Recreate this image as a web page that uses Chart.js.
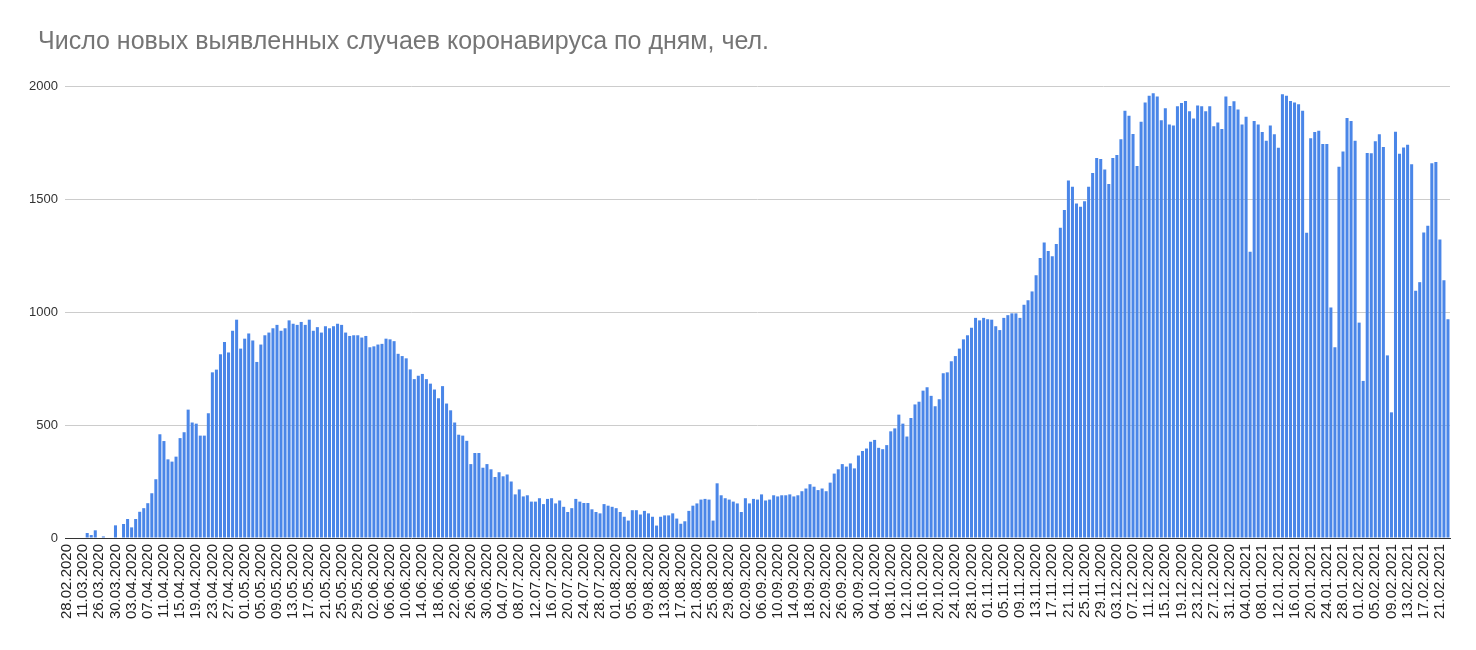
<!DOCTYPE html>
<html><head><meta charset="utf-8">
<script src="https://cdn.jsdelivr.net/npm/chart.js@4.4.1/dist/chart.umd.min.js"></script>
<style>html,body{margin:0;padding:0;background:#fff}</style>
</head><body>
<canvas id="c" width="1476" height="650"></canvas>
<script>
const titleText = 'Число новых выявленных случаев коронавируса по дням, чел.';

const categories = [
'28.02.2020','03.03.2020','05.03.2020','07.03.2020','11.03.2020','14.03.2020','18.03.2020','22.03.2020',
'26.03.2020','27.03.2020','28.03.2020','29.03.2020','30.03.2020','31.03.2020',
'01.04.2020','02.04.2020','03.04.2020','04.04.2020','05.04.2020','06.04.2020','07.04.2020','08.04.2020','09.04.2020','10.04.2020',
'11.04.2020','12.04.2020','13.04.2020','14.04.2020','15.04.2020','16.04.2020','17.04.2020','18.04.2020','19.04.2020','20.04.2020',
'21.04.2020','22.04.2020','23.04.2020','24.04.2020','25.04.2020','26.04.2020','27.04.2020','28.04.2020','29.04.2020','30.04.2020',
'01.05.2020','02.05.2020','03.05.2020','04.05.2020','05.05.2020','06.05.2020','07.05.2020','08.05.2020','09.05.2020','10.05.2020',
'11.05.2020','12.05.2020','13.05.2020','14.05.2020','15.05.2020','16.05.2020','17.05.2020','18.05.2020','19.05.2020','20.05.2020',
'21.05.2020','22.05.2020','23.05.2020','24.05.2020','25.05.2020','26.05.2020','27.05.2020','28.05.2020','29.05.2020','30.05.2020','31.05.2020',
'01.06.2020','02.06.2020','03.06.2020','04.06.2020','05.06.2020','06.06.2020','07.06.2020','08.06.2020','09.06.2020','10.06.2020',
'11.06.2020','12.06.2020','13.06.2020','14.06.2020','15.06.2020','16.06.2020','17.06.2020','18.06.2020','19.06.2020','20.06.2020',
'21.06.2020','22.06.2020','23.06.2020','24.06.2020','25.06.2020','26.06.2020','27.06.2020','28.06.2020','29.06.2020','30.06.2020',
'01.07.2020','02.07.2020','03.07.2020','04.07.2020','05.07.2020','06.07.2020','07.07.2020','08.07.2020','09.07.2020','10.07.2020',
'11.07.2020','12.07.2020','13.07.2020','14.07.2020','15.07.2020','16.07.2020','17.07.2020','18.07.2020','19.07.2020','20.07.2020',
'21.07.2020','22.07.2020','23.07.2020','24.07.2020','25.07.2020','26.07.2020','27.07.2020','28.07.2020','29.07.2020','30.07.2020','31.07.2020',
'01.08.2020','02.08.2020','03.08.2020','04.08.2020','05.08.2020','06.08.2020','07.08.2020','08.08.2020','09.08.2020','10.08.2020',
'11.08.2020','12.08.2020','13.08.2020','14.08.2020','15.08.2020','16.08.2020','17.08.2020','18.08.2020','19.08.2020','20.08.2020',
'21.08.2020','22.08.2020','23.08.2020','24.08.2020','25.08.2020','26.08.2020','27.08.2020','28.08.2020','29.08.2020','30.08.2020','31.08.2020',
'01.09.2020','02.09.2020','03.09.2020','04.09.2020','05.09.2020','06.09.2020','07.09.2020','08.09.2020','09.09.2020','10.09.2020',
'11.09.2020','12.09.2020','13.09.2020','14.09.2020','15.09.2020','16.09.2020','17.09.2020','18.09.2020','19.09.2020','20.09.2020',
'21.09.2020','22.09.2020','23.09.2020','24.09.2020','25.09.2020','26.09.2020','27.09.2020','28.09.2020','29.09.2020','30.09.2020',
'01.10.2020','02.10.2020','03.10.2020','04.10.2020','05.10.2020','06.10.2020','07.10.2020','08.10.2020','09.10.2020','10.10.2020',
'11.10.2020','12.10.2020','13.10.2020','14.10.2020','15.10.2020','16.10.2020','17.10.2020','18.10.2020','19.10.2020','20.10.2020',
'21.10.2020','22.10.2020','23.10.2020','24.10.2020','25.10.2020','26.10.2020','27.10.2020','28.10.2020','29.10.2020','30.10.2020','31.10.2020',
'01.11.2020','02.11.2020','03.11.2020','04.11.2020','05.11.2020','06.11.2020','07.11.2020','08.11.2020','09.11.2020','10.11.2020',
'11.11.2020','12.11.2020','13.11.2020','14.11.2020','15.11.2020','16.11.2020','17.11.2020','18.11.2020','19.11.2020','20.11.2020',
'21.11.2020','22.11.2020','23.11.2020','24.11.2020','25.11.2020','26.11.2020','27.11.2020','28.11.2020','29.11.2020','30.11.2020',
'01.12.2020','02.12.2020','03.12.2020','04.12.2020','05.12.2020','06.12.2020','07.12.2020','08.12.2020','09.12.2020','10.12.2020',
'11.12.2020','12.12.2020','13.12.2020','14.12.2020','15.12.2020','16.12.2020','17.12.2020','18.12.2020','19.12.2020','20.12.2020',
'21.12.2020','22.12.2020','23.12.2020','24.12.2020','25.12.2020','26.12.2020','27.12.2020','28.12.2020','29.12.2020','30.12.2020','31.12.2020',
'01.01.2021','02.01.2021','03.01.2021','04.01.2021','05.01.2021','06.01.2021','07.01.2021','08.01.2021','09.01.2021','10.01.2021',
'11.01.2021','12.01.2021','13.01.2021','14.01.2021','15.01.2021','16.01.2021','17.01.2021','18.01.2021','19.01.2021','20.01.2021',
'21.01.2021','22.01.2021','23.01.2021','24.01.2021','25.01.2021','26.01.2021','27.01.2021','28.01.2021','29.01.2021','30.01.2021','31.01.2021',
'01.02.2021','02.02.2021','03.02.2021','04.02.2021','05.02.2021','06.02.2021','07.02.2021','08.02.2021','09.02.2021','10.02.2021',
'11.02.2021','12.02.2021','13.02.2021','14.02.2021','15.02.2021','16.02.2021','17.02.2021','18.02.2021','19.02.2021','20.02.2021',
'21.02.2021','22.02.2021','23.02.2021'
];

const newCases = [
0,0,0,0,0,22,13,34,0,7,0,0,56,0,62,84,47,84,116,132,
154,198,260,459,429,348,338,360,442,468,568,511,506,453,453,552,733,745,813,867,
821,917,966,838,882,905,874,779,856,897,909,928,943,917,928,963,948,943,956,943,
966,917,933,909,937,928,937,948,943,909,894,897,897,887,894,844,848,856,859,882,
879,871,815,805,795,746,703,718,726,703,683,657,618,672,595,565,511,457,453,430,
327,376,376,311,327,304,270,291,273,281,250,193,215,184,189,161,161,176,150,173,
176,153,166,138,115,132,173,161,155,155,127,115,109,150,143,138,132,115,94,77,
123,123,104,120,109,94,55,94,100,100,109,86,63,74,120,143,153,170,173,170,
77,242,189,176,170,161,153,115,176,153,173,170,193,166,170,189,184,189,189,193,
184,189,207,219,238,227,212,219,207,245,285,304,327,316,330,308,365,385,396,426,
434,399,393,411,472,485,546,506,449,531,591,603,652,667,629,583,614,729,733,782,
805,838,879,897,930,974,963,974,968,966,937,920,974,986,994,994,974,1032,1052,1091,
1163,1239,1308,1270,1247,1301,1373,1451,1582,1554,1480,1466,1490,1554,1615,1681,1677,1631,1566,1681,
1695,1764,1891,1868,1788,1646,1842,1927,1957,1968,1953,1849,1902,1830,1825,1910,1925,1934,1888,1856,
1914,1910,1888,1910,1822,1838,1810,1953,1911,1933,1896,1830,1864,1267,1845,1830,1796,1758,1825,1787,
1727,1963,1957,1934,1927,1919,1891,1351,1769,1796,1802,1743,1743,1020,844,1643,1710,1858,1845,1758,
953,695,1704,1702,1756,1786,1730,808,556,1798,1700,1728,1740,1654,1094,1132,1352,1382,1658,1664,
1321,1140,968
];

const yTickValues = [0, 500, 1000, 1500, 2000];
const labelEvery = 4;

const titleShift = {
  id: 'titleShift',
  afterLayout(chart) { if (chart.titleBlock) { chart.titleBlock.left = 38; } }
};

const ctx = document.getElementById('c').getContext('2d');
new Chart(ctx, {
  type: 'bar',
  data: {
    labels: categories,
    datasets: [{
      data: newCases,
      backgroundColor: '#4a86e8',
      borderWidth: 0,
      barPercentage: 0.75,
      categoryPercentage: 1.0
    }]
  },
  plugins: [titleShift],
  options: {
    responsive: false,
    animation: false,
    devicePixelRatio: 1,
    layout: { padding: { left: 0, right: 26, top: 0, bottom: 0 } },
    plugins: {
      legend: { display: false },
      tooltip: { enabled: false },
      title: {
        display: true,
        text: titleText,
        align: 'start',
        color: '#757575',
        font: { family: "'Liberation Sans', Arial, sans-serif", size: 25, weight: 'normal' },
        padding: { top: 27, bottom: 29 }
      }
    },
    scales: {
      x: {
        grid: { display: false, drawTicks: false },
        border: { display: true, color: '#333333', width: 1 },
        ticks: {
          autoSkip: false,
          maxRotation: 90,
          minRotation: 90,
          padding: 6,
          color: '#222222',
          font: { family: "'Liberation Sans', Arial, sans-serif", size: 15 },
          callback: (v, i) => (i % labelEvery === 0 ? categories[i] : '')
        },
        afterFit: (s) => { s.height = 112; }
      },
      y: {
        min: 0,
        max: 2000,
        afterBuildTicks: (s) => { s.ticks = yTickValues.map(v => ({ value: v })); },
        grid: { color: '#cccccc', drawTicks: false },
        border: { display: false },
        ticks: {
          padding: 7,
          color: '#333333',
          font: { family: "'Liberation Sans', Arial, sans-serif", size: 13 },
          callback: (v) => String(v)
        },
        afterFit: (s) => { s.width = 65; }
      }
    }
  }
});
</script>
</body></html>
